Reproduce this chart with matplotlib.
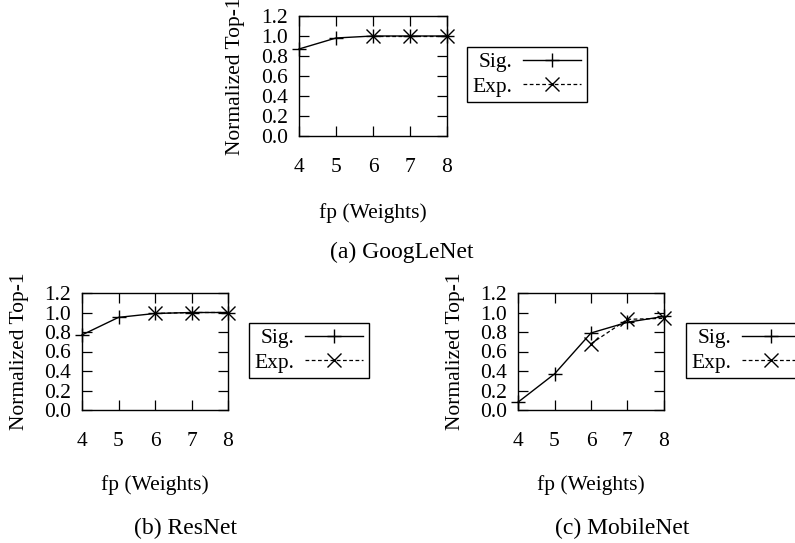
import numpy as np
import matplotlib
matplotlib.use("Agg")
import matplotlib.pyplot as plt

plt.rcParams['font.family'] = ['Liberation Serif', 'DejaVu Serif']
plt.rcParams['font.size'] = 15.5

bits = [4, 5, 6, 7, 8]
yticks = [0.0, 0.2, 0.4, 0.6, 0.8, 1.0, 1.2]
ytick_labels = ["0.0", "0.2", "0.4", "0.6", "0.8", "1.0", "1.2"]

googlenet_sig = [0.87, 0.98, 1.00, 1.00, 1.00]
googlenet_exp = [np.nan, np.nan, 1.00, 1.00, 1.00]
resnet_sig = [0.77, 0.95, 0.99, 1.00, 1.00]
resnet_exp = [np.nan, np.nan, 0.99, 1.00, 1.00]
mobilenet_sig = [0.08, 0.37, 0.79, 0.90, 0.96]
mobilenet_exp = [np.nan, np.nan, 0.68, 0.93, 0.94]

titles = ["(a) GoogLeNet", "(b) ResNet", "(c) MobileNet"]
xlabel = "fp (Weights)"
ylabel = "Normalized Top-1"

W, H = 795, 543
fig = plt.figure(figsize=(W / 100, H / 100), dpi=100)

# axes boxes in pixels: left, top, right, bottom
boxes = [(299, 16, 447, 136), (82, 293, 228, 410), (518, 293, 664, 410)]
legend_pos = [(467, 47), (249, 323), (686, 323)]
title_pos = [(402, 252), (185, 528), (622, 528)]
series = [(googlenet_sig, googlenet_exp), (resnet_sig, resnet_exp),
          (mobilenet_sig, mobilenet_exp)]

for i in range(3):
    l, t, r, b = boxes[i]
    ax = fig.add_axes([l / W, 1 - b / H, (r - l) / W, (b - t) / H])
    sig, exp = series[i]
    ax.plot(bits, sig, color='black', lw=1.0, marker='+', ms=10, mew=1.0,
            label='Sig.', clip_on=False, zorder=3)
    ax.plot(bits, exp, color='black', lw=0.9, ls=(0, (3, 2)), marker='x', ms=10,
            mew=1.0, label='Exp.', clip_on=False, zorder=3)
    ax.set_xlim(4, 8)
    ax.set_ylim(0, 1.2)
    ax.set_xticks(bits)
    ax.set_yticks(yticks)
    ax.set_yticklabels(ytick_labels)
    ax.tick_params(direction='in', length=7, width=0.9, top=True, right=True)
    ax.tick_params(axis='x', pad=16)
    ax.tick_params(axis='y', pad=8)
    for s in ax.spines.values():
        s.set_linewidth(1.0)
    ax.set_xlabel(xlabel)
    ax.xaxis.set_label_coords(0.5, -0.56)
    ax.set_ylabel(ylabel)
    ax.yaxis.set_label_coords(-0.365, 0.5)
    lx, ly = legend_pos[i]
    leg = ax.legend(loc='upper left', bbox_to_anchor=(lx / W, 1 - ly / H),
                    bbox_transform=fig.transFigure, markerfirst=False,
                    fancybox=False, frameon=True, edgecolor='black',
                    framealpha=1, borderpad=0.25, labelspacing=0.2,
                    handlelength=2.7, handletextpad=0.5, borderaxespad=0)
    leg.get_frame().set_linewidth(1.0)
    tx, ty = title_pos[i]
    fig.text(tx / W, 1 - ty / H, titles[i], ha='center', va='center', fontsize=17)

fig.savefig("out.png", dpi=100)
